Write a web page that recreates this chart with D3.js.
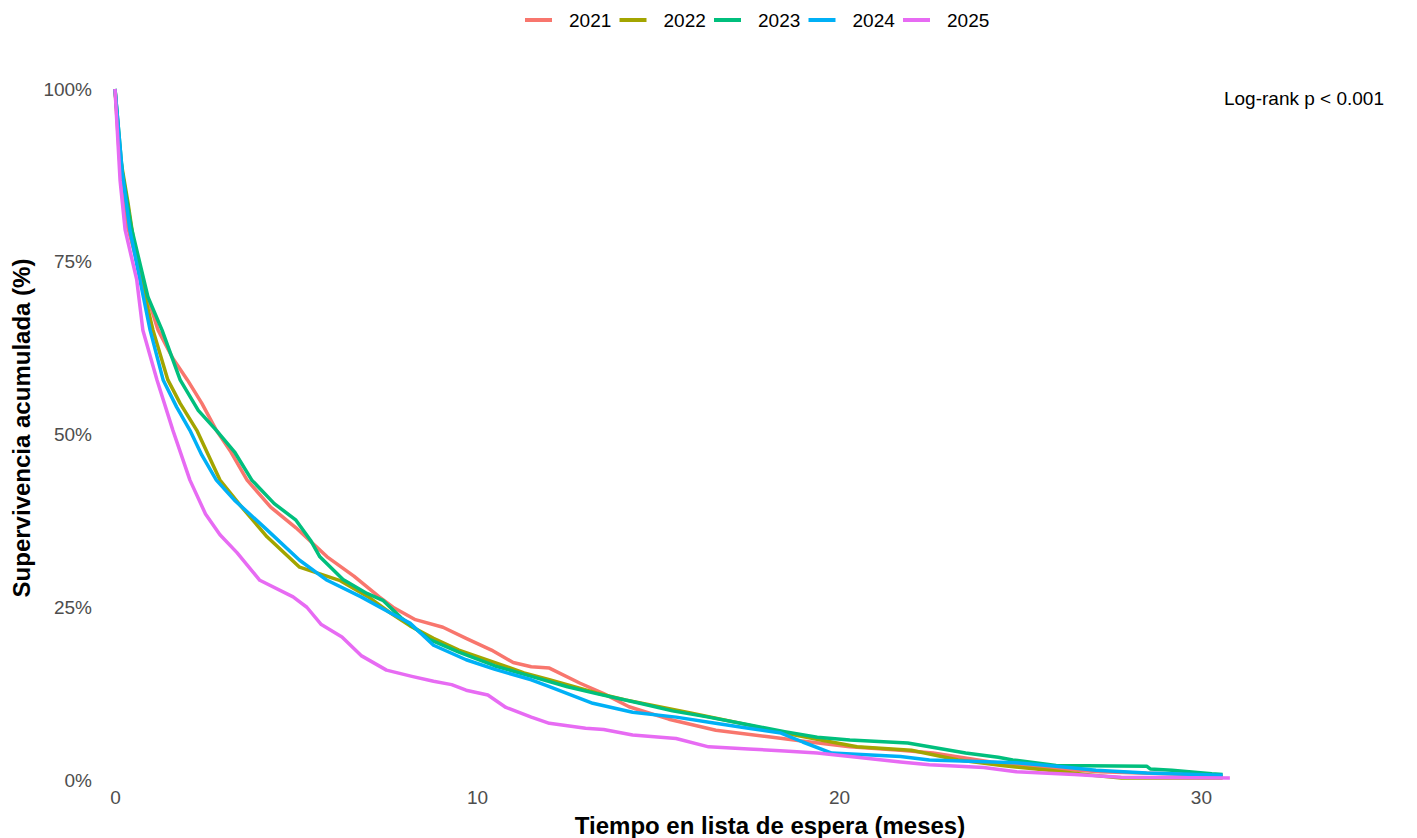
<!DOCTYPE html>
<html>
<head>
<meta charset="utf-8">
<script src="https://cdn.jsdelivr.net/npm/d3@7"></script>
<style>
  html, body { margin: 0; padding: 0; background: #fff; }
  svg { display: block; font-family: "Liberation Sans", Arial, sans-serif; }
</style>
</head>
<body>
<svg id="chart" width="1417" height="838"></svg>
<script>
// ---- data (time in months, survival in %) ----
const years = ["2021", "2022", "2023", "2024", "2025"];
const colors = ["#F8766D", "#A3A500", "#00BF7D", "#00B0F6", "#E76BF3"];

const t2021 = [0,0.15,0.35,0.69,1.19,1.6,2.0,2.4,2.8,3.2,3.65,4.3,5.0,5.86,6.6,7.3,7.68,8.3,9.06,9.7,10.4,11.0,11.5,12.0,12.85,13.5,14.2,15.3,16.6,18.0,19.2,20.3,21.7,22.6,24.2,25.5,27.2,30.4,30.6];
const s2021 = [100,88,80,73.4,65.1,61,57.9,54.5,50.6,47.5,43.4,39.5,36.5,32.3,29.5,26.5,25.0,23.2,22.1,20.5,18.8,17.0,16.4,16.2,14.0,12.5,10.6,8.8,7.2,6.3,5.5,4.8,4.3,3.9,2.6,1.8,1.2,0.7,0.5];

const t2022 = [0,0.15,0.36,0.6,1.05,1.46,1.8,2.26,2.9,3.5,4.2,5.1,6.2,7.0,7.6,8.15,8.8,9.5,10.5,11.3,12.0,13.3,14.1,15.9,17.2,18.5,19.5,20.5,22.0,23.3,24.5,25.8,26.8,27.8,30.6];
const s2022 = [100,90,83.5,75,65.1,57.9,54.5,50.6,43.4,39.5,35.2,30.8,28.9,26.5,24.2,22.3,20.5,18.8,17.0,15.5,14.5,12.6,11.6,9.7,8.3,6.8,5.8,4.8,4.3,2.9,2.1,1.4,0.8,0.3,0.3];

const t2023 = [0,0.2,0.45,0.91,1.3,1.8,2.3,2.8,3.3,3.78,4.4,5.0,5.4,5.66,6.3,6.96,7.4,7.9,8.7,9.5,10.5,11.5,12.5,13.3,14.5,15.4,16.4,17.5,18.5,19.4,20.3,21.9,22.5,23.5,24.4,24.8,26.0,28.5,28.6,29.2,30.3,30.6];
const s2023 = [100,88,80,69.9,65.1,57.9,53.5,50.6,47.5,43.4,40,37.6,34.7,32.3,29,27,26,23.5,20.3,18.5,16.5,15,13.5,12.5,11.1,10,9.1,8.0,7.0,6.2,5.8,5.35,4.8,3.9,3.3,2.9,2.1,2.0,1.6,1.4,0.9,0.8];

const t2024 = [0,0.2,0.41,0.97,1.33,1.7,2.07,2.4,2.8,3.3,4.2,5.1,5.86,6.8,7.6,8.15,8.8,9.7,10.5,11.5,12.0,13.2,14.3,15.5,16.5,17.5,18.4,19.0,19.8,21.7,22.5,24.9,26.0,27.1,28.5,30.6];
const s2024 = [100,88,79.6,65.1,57.9,54,50.6,47,43.4,40.5,36.2,31.8,28.9,26.5,24.2,22.7,19.5,17.4,16,14.5,13.5,11.1,9.8,9.1,8.3,7.5,6.8,5.5,3.9,3.4,2.9,2.5,2.0,1.4,1.0,0.7];

const t2025 = [0,0.14,0.28,0.6,0.77,1.16,1.6,2.07,2.5,2.9,3.37,4.0,4.92,5.3,5.7,6.27,6.8,7.5,8.2,8.8,9.3,9.7,10.3,10.8,11.5,12.0,13.0,13.5,14.3,15.5,16.4,17.5,18.5,19.4,20.5,21.7,22.5,24.0,24.9,26.5,27.8,30.8];
const s2025 = [100,86.8,79.6,72.4,65.1,57.9,50.6,43.4,38.5,35.5,32.9,28.9,26.5,25.0,22.5,20.7,18.0,15.9,15.0,14.3,13.8,13.0,12.3,10.5,9.1,8.2,7.5,7.3,6.5,6.0,4.8,4.5,4.2,3.9,3.3,2.6,2.2,1.8,1.2,0.8,0.4,0.3];

const xTicks = [0, 10, 20, 30];
const yTicks = [0, 25, 50, 75, 100];
const xTitle = "Tiempo en lista de espera (meses)";
const yTitle = "Supervivencia acumulada (%)";
const annotation = "Log-rank p < 0.001";

const seriesT = [t2021, t2022, t2023, t2024, t2025];
const seriesS = [s2021, s2022, s2023, s2024, s2025];
const series = years.map((y, i) => ({
  year: y, color: colors[i],
  pts: seriesT[i].map((t, j) => ({ t, s: seriesS[i][j] }))
}));

// ---- layout ----
const svg = d3.select("#chart");
const x = d3.scaleLinear().domain([0, 35.5]).range([115, 1400]);
const y = d3.scaleLinear().domain([0, 100]).range([780, 89]);

// y axis labels
const yAxis = d3.axisLeft(y).tickValues(yTicks).tickFormat(d => d + "%").tickSize(0).tickPadding(0);
const gy = svg.append("g").attr("transform", "translate(92,0)").call(yAxis);
gy.select(".domain").remove();
gy.selectAll("text").attr("fill", "#4D4D4D").style("font-size", "19px").style("font-family", "Liberation Sans, Arial, sans-serif");

// x axis labels
const xAxis = d3.axisBottom(x).tickValues(xTicks).tickFormat(d3.format("d")).tickSize(0).tickPadding(0);
const gx = svg.append("g").attr("transform", "translate(0,790)").call(xAxis);
gx.select(".domain").remove();
gx.selectAll("text").attr("fill", "#4D4D4D").style("font-size", "19px").style("font-family", "Liberation Sans, Arial, sans-serif");

// lines
const line = d3.line().x(d => x(d.t)).y(d => y(d.s)).curve(d3.curveLinear);
svg.append("g").selectAll("path").data(series).join("path")
  .attr("d", d => line(d.pts))
  .attr("fill", "none")
  .attr("stroke", d => d.color)
  .attr("stroke-width", 3.5)
  .attr("stroke-linejoin", "round");

// annotation
svg.append("text").attr("x", 1384).attr("y", 105).attr("text-anchor", "end")
  .style("font-size", "19px").attr("fill", "#000").text(annotation);

// axis titles
svg.append("text").attr("x", 770).attr("y", 834).attr("text-anchor", "middle")
  .style("font-size", "24px").style("font-weight", "bold").attr("fill", "#000").text(xTitle);
svg.append("text").attr("transform", "translate(30,428) rotate(-90)").attr("text-anchor", "middle")
  .style("font-size", "24px").style("font-weight", "bold").attr("fill", "#000").text(yTitle);

// legend
const legX0 = 525, legStep = 94.5;
const leg = svg.append("g").selectAll("g").data(series).join("g")
  .attr("transform", (d, i) => `translate(${legX0 + i * legStep},20)`);
leg.append("line").attr("x1", 0).attr("x2", 27).attr("y1", 0).attr("y2", 0)
  .attr("stroke", d => d.color).attr("stroke-width", 4);
leg.append("text").attr("x", 44).attr("y", 7).style("font-size", "19px").attr("fill", "#000")
  .text(d => d.year);
</script>
</body>
</html>
